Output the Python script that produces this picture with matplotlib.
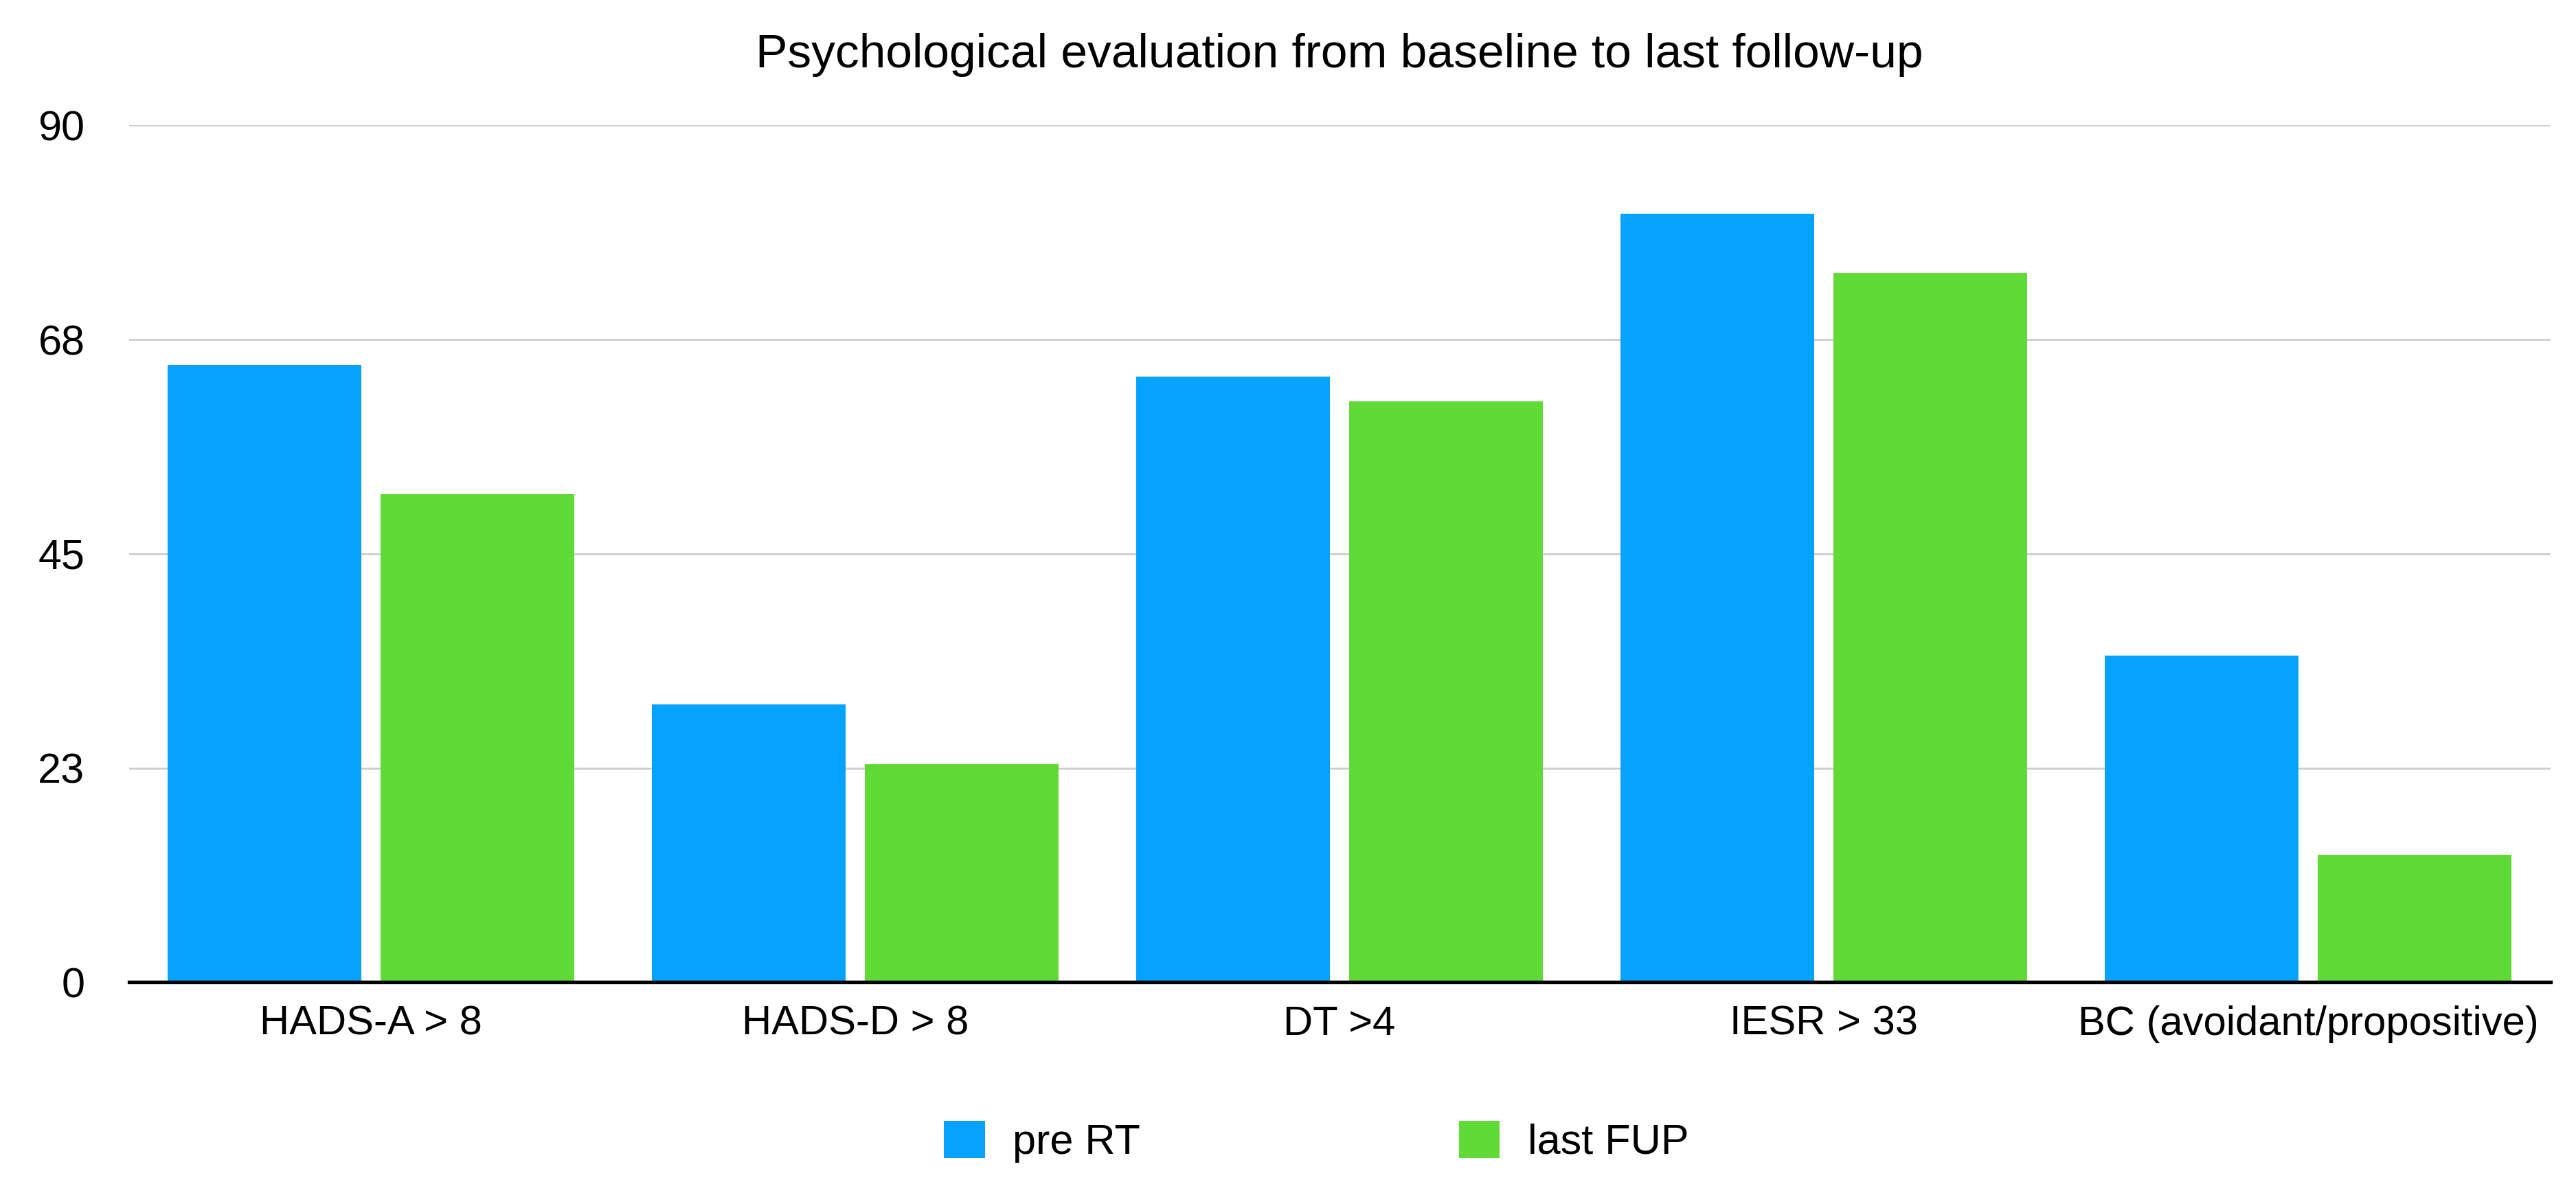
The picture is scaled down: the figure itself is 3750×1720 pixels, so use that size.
import matplotlib.pyplot as plt
import numpy as np

plt.rcParams['font.family'] = ['Liberation Sans', 'DejaVu Sans']

# data
categories = ["HADS-A > 8", "HADS-D > 8", "DT >4", "IESR > 33", "BC (avoidant/propositive)"]
pre_rt = [64.8, 29.2, 63.6, 80.7, 34.3]
last_fup = [51.3, 22.9, 61.0, 74.5, 13.4]
yticks = [0, 22.5, 45, 67.5, 90]
ytick_labels = ["0", "23", "45", "68", "90"]

blue = "#05A3FE"
green = "#60DA36"

fig = plt.figure(figsize=(37.5, 17.2), dpi=100)
ax = fig.add_axes([0.050, 0.169, 0.940, 0.725])

x = np.arange(len(categories))
w = 0.40
ax.bar(x - 0.22, pre_rt, width=w, color=blue, label="pre RT", zorder=2)
ax.bar(x + 0.22, last_fup, width=w, color=green, label="last FUP", zorder=2)

ax.set_xlim(-0.5, 4.5)
ax.set_ylim(0, 90)
ax.set_yticks(yticks)
ax.set_yticklabels(ytick_labels)
ax.set_xticks(x)
ax.set_xticklabels(categories)

ax.tick_params(axis="y", length=0, pad=46, labelsize=44)
ax.tick_params(axis="x", length=0, pad=24, labelsize=43)

for s in ["top", "right", "left"]:
    ax.spines[s].set_visible(False)
ax.spines["bottom"].set_linewidth(3.8)
ax.spines["bottom"].set_color("black")
ax.spines["bottom"].set_zorder(3)

ax.yaxis.grid(True, color="#cdcdcd", linewidth=2, zorder=0)
ax.set_axisbelow(True)

ax.set_title("Psychological evaluation from baseline to last follow-up", fontsize=50, pad=61)

fig.legend(loc="center", bbox_to_anchor=(0.511, 0.034), ncol=2, frameon=False,
           fontsize=44, handlelength=0.97, handleheight=0.97, handletextpad=0.66,
           columnspacing=7.6)

plt.savefig("out.png")
